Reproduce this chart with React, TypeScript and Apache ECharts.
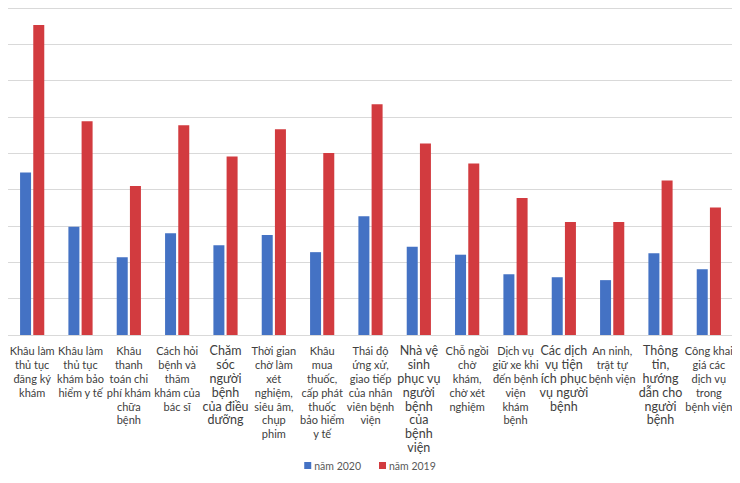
import React, { useEffect, useRef } from "react";
import * as echarts from "echarts";

const categories: string[] = [
  "Khâu làm\nthủ tục\nđăng ký\nkhám",
  "Khâu làm\nthủ tục\nkhám bảo\nhiểm y tế",
  "Khâu\nthanh\ntoán chi\nphí khám\nchữa\nbệnh",
  "Cách hỏi\nbệnh và\nthăm\nkhám của\nbác sĩ",
  "Chăm\nsóc\nngười\nbệnh\ncủa điều\ndưỡng",
  "Thời gian\nchờ làm\nxét\nnghiệm,\nsiêu âm,\nchụp\nphim",
  "Khâu\nmua\nthuốc,\ncấp phát\nthuốc\nbảo hiểm\ny tế",
  "Thái độ\nứng xử,\ngiao tiếp\ncủa nhân\nviên bệnh\nviện",
  "Nhà vệ\nsinh\nphục vụ\nngười\nbệnh\ncủa\nbệnh\nviện",
  "Chỗ ngồi\nchờ\nkhám,\nchờ xét\nnghiệm",
  "Dịch vụ\ngiữ xe khi\nđến bệnh\nviện\nkhám\nbệnh",
  "Các dịch\nvụ tiện\ních phục\nvụ người\nbệnh",
  "An ninh,\ntrật tự\nbệnh viện",
  "Thông\ntin,\nhướng\ndẫn cho\nngười\nbệnh",
  "Công khai\ngiá các\ndịch vụ\ntrong\nbệnh viện",
];

// categories drawn in a slightly larger font in the reference
const bigLabelIdx: number[] = [4, 8, 11, 13];

const values2020: number[] = [4.47, 2.98, 2.14, 2.8, 2.47, 2.75, 2.28, 3.27, 2.43, 2.21, 1.67, 1.59, 1.51, 2.25, 1.81];
const values2019: number[] = [8.53, 5.88, 4.1, 5.77, 4.91, 5.66, 5.01, 6.35, 5.27, 4.72, 3.77, 3.11, 3.11, 4.25, 3.51];

const seriesNames: string[] = ["năm 2020", "năm 2019"];

export default function App() {
  const ref = useRef<HTMLDivElement>(null);
  useEffect(() => {
    if (!ref.current) return;
    const chart = echarts.init(ref.current, null, { renderer: "svg" });
    const font = "Lato, 'Open Sans', sans-serif";
    chart.setOption({
      animation: false,
      backgroundColor: "#ffffff",
      textStyle: { fontFamily: font },
      legend: {
        bottom: 7,
        left: "center",
        itemWidth: 7,
        itemHeight: 7,
        itemGap: 18,
        icon: "rect",
        textStyle: { fontSize: 10.5, color: "#595959", fontFamily: font, padding: [0, 0, 0, -2] },
        data: seriesNames,
      },
      grid: { left: 8, right: 7, top: 8, bottom: 148, containLabel: false, outerBoundsMode: "none" },
      xAxis: {
        type: "category",
        data: categories,
        axisTick: { show: false },
        axisLine: { lineStyle: { color: "#d9d9d9", width: 1 } },
        axisLabel: {
          interval: 0,
          margin: 9,
          color: "#404040",
          fontSize: 11,
          lineHeight: 13.8,
          fontFamily: font,
          overflow: "none",
          hideOverlap: false,
          formatter: (v: string, i: number) => {
            const lines = v.split("\n");
            const cls = bigLabelIdx.indexOf(i) >= 0 ? "b" : "s";
            return lines.map((l) => `{${cls}|${l}}`).join("\n");
          },
          rich: {
            s: { fontSize: 11, lineHeight: 13.8, color: "#404040", fontFamily: font, align: "center" },
            b: { fontSize: 12.5, lineHeight: 13.8, color: "#404040", fontFamily: font, align: "center" },
          },
        },
      },
      yAxis: {
        type: "value",
        min: 0,
        max: 9,
        interval: 1,
        axisLabel: { show: false },
        axisLine: { show: false },
        axisTick: { show: false },
        splitLine: { lineStyle: { color: "#d9d9d9", width: 1 } },
      },
      series: [
        {
          name: seriesNames[0],
          type: "bar",
          data: values2020,
          barWidth: 11,
          barGap: "20%",
          itemStyle: { color: "#4472C4" },
        },
        {
          name: seriesNames[1],
          type: "bar",
          data: values2019,
          barWidth: 11,
          barGap: "20%",
          itemStyle: { color: "#D23B3F" },
        },
      ],
    });
    return () => chart.dispose();
  }, []);
  return <div ref={ref} style={{ width: 740, height: 483, margin: -8 }} />;
}
